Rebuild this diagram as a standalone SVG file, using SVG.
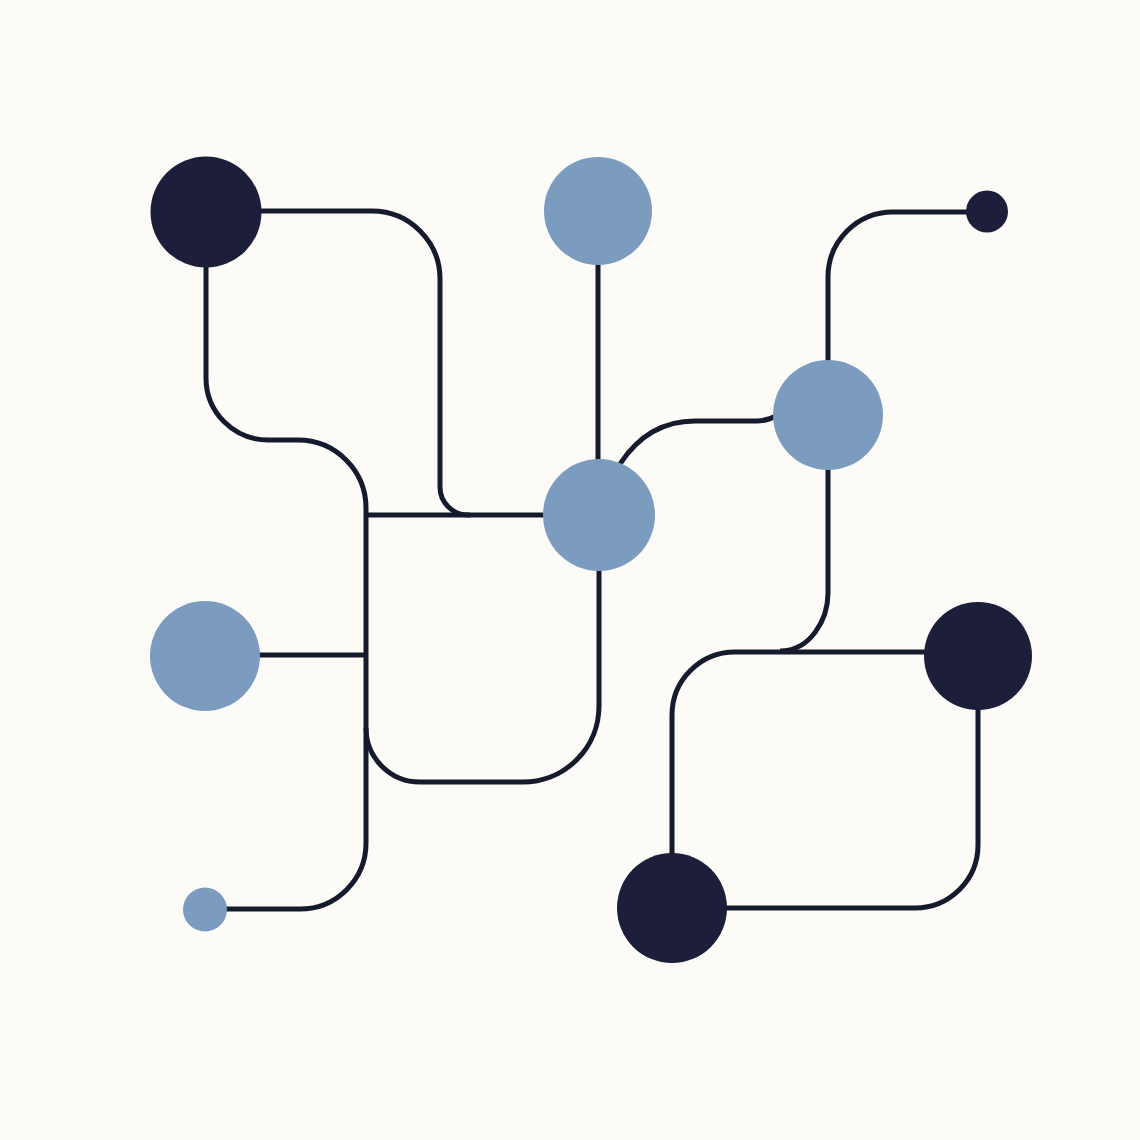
<svg xmlns="http://www.w3.org/2000/svg" width="1140" height="1140" viewBox="0 0 1140 1140">
<style>
.c{fill:none;stroke:#151a2c;stroke-width:5;stroke-linecap:butt;stroke-linejoin:round}
.dk{fill:#1c1e3a}
.lt{fill:#7b9cbe}
</style>
<rect width="1140" height="1140" fill="#fcfbf8"/>
<g id="connectors">
<path class="c" d="M206,211 H372 A68,68 0 0 1 440,279 V487 A28,28 0 0 0 468,515 H599"/>
<path class="c" d="M206,212 V378 A62,62 0 0 0 268,440 H298 A68,68 0 0 1 366,508 V843 A66,66 0 0 1 300,909 H205"/>
<path class="c" d="M366,515 H470"/>
<path class="c" d="M205,655 H366"/>
<path class="c" d="M366,728 A54,54 0 0 0 420,782 H523 A76,76 0 0 0 599,706 V515"/>
<path class="c" d="M598,211 V515"/>
<path class="c" d="M620,464 Q648,421 695,421 H757 Q767,421 778,415"/>
<path class="c" d="M828,414 V277 A65,65 0 0 1 893,212 H987"/>
<path class="c" d="M828,414 V593 C828,620 810,651 780,651"/>
<path class="c" d="M978,652 H735 A63,63 0 0 0 672,715 V908"/>
<path class="c" d="M978,656 V845 A63,63 0 0 1 915,908 H672"/>
</g>
<g id="nodeA"><circle class="dk" cx="206" cy="212" r="55.5"/></g>
<g id="nodeB"><circle class="lt" cx="598" cy="211" r="54"/></g>
<g id="nodeC"><circle class="lt" cx="599" cy="515" r="56"/></g>
<g id="nodeD"><circle class="lt" cx="828" cy="415" r="55"/></g>
<g id="nodeE"><circle class="dk" cx="987" cy="211.5" r="21"/></g>
<g id="nodeF"><circle class="lt" cx="205" cy="656" r="55"/></g>
<g id="nodeG"><circle class="lt" cx="205" cy="909.5" r="22"/></g>
<g id="nodeH"><circle class="dk" cx="978" cy="656" r="54"/></g>
<g id="nodeI"><circle class="dk" cx="672" cy="908" r="55"/></g>
</svg>
